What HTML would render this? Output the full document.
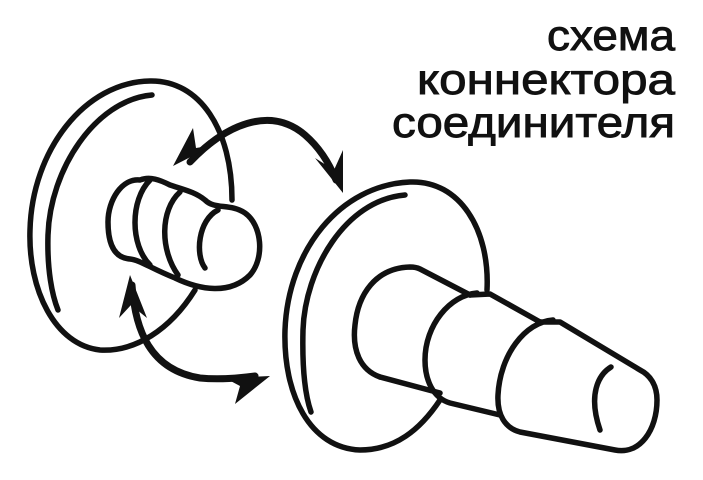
<!DOCTYPE html>
<html><head><meta charset="utf-8"><style>html,body{margin:0;padding:0;background:#fff}svg{display:block}</style></head>
<body>
<svg width="703" height="480" viewBox="0 0 703 480" xmlns="http://www.w3.org/2000/svg">
<g fill="none" stroke="#111" stroke-width="5.5" stroke-linecap="round" stroke-linejoin="round">
  <!-- left disc -->
  <path d="M195,290 C170,330 135,352 100,350 C55,345 28,290 30,230 C32,150 85,82 150,81 C200,80 232,130 232,200"/>
  <path d="M152,95 C95,100 50,170 48,235 C47,270 52,295 58,310"/>
  <!-- left knob -->
  <path d="M140,180 C122,178 108,200 108,222 C108,245 115,258 130,259 C140,260 150,268 175,278 C200,290 230,295 250,275 C265,258 262,225 245,213 C230,203 215,210 205,200 C195,192 185,190 170,185 C160,180 150,176 140,180"/>
  <path d="M150,180 C130,200 130,245 150,265"/>
  <path d="M180,192 C160,210 160,250 178,275"/>
  <path d="M218,210 C198,220 195,255 205,268"/>
  <!-- right disc -->
  <path d="M440,400 C420,430 395,450 360,450 C310,448 283,395 285,330 C288,250 340,185 410,182 C460,180 490,230 487,290"/>
  <path d="M405,195 C345,200 305,270 303,330 C302,370 305,395 311,412"/>
  <!-- right cone -->
  <path d="M380,377 C360,370 352,350 355,325 C358,295 375,268 410,267 C415,267 418,268 420,269 L470,295"/>
  <path d="M380,377 L440,393"/>
  <path d="M477,293 C450,295 425,325 425,360 C425,380 433,398 450,403 L500,415"/>
  <path d="M470,295 L490,294 L540,322"/>
  <path d="M553,320 C525,322 500,355 498,395 C497,415 505,428 520,432 L615,450 C640,455 657,430 657,400 C657,385 650,375 640,370 L560,322 L540,322"/>
  <path d="M611,367 C598,375 588,395 600,430"/>
</g>
<!-- arrows -->
<g fill="none" stroke="#111" stroke-width="7" stroke-linecap="round">
  <path d="M190,162 C225,125 270,105 305,135 C320,148 330,165 336,180"/>
  <path d="M132,285 C135,330 150,370 200,378 C220,380 240,378 255,376"/>
</g>
<g fill="#111">
  <polygon points="173,166 193,128 196,148 214,145"/>
  <polygon points="343,193 343,150 334,170 315,158"/>
  <polygon points="130,275 119,318 131,305 147,318"/>
  <polygon points="270,376 225,378 240,386 235,404"/>
</g>
<g font-family="Liberation Sans, DejaVu Sans, sans-serif" font-size="43" fill="#111" stroke="#111" stroke-width="0.9" text-anchor="end">
  <text x="675" y="50" textLength="128" lengthAdjust="spacingAndGlyphs">схема</text>
  <text x="675" y="94" textLength="258" lengthAdjust="spacingAndGlyphs">коннектора</text>
  <text x="675" y="137" textLength="283" lengthAdjust="spacingAndGlyphs">соединителя</text>
</g>
</svg>
</body></html>
